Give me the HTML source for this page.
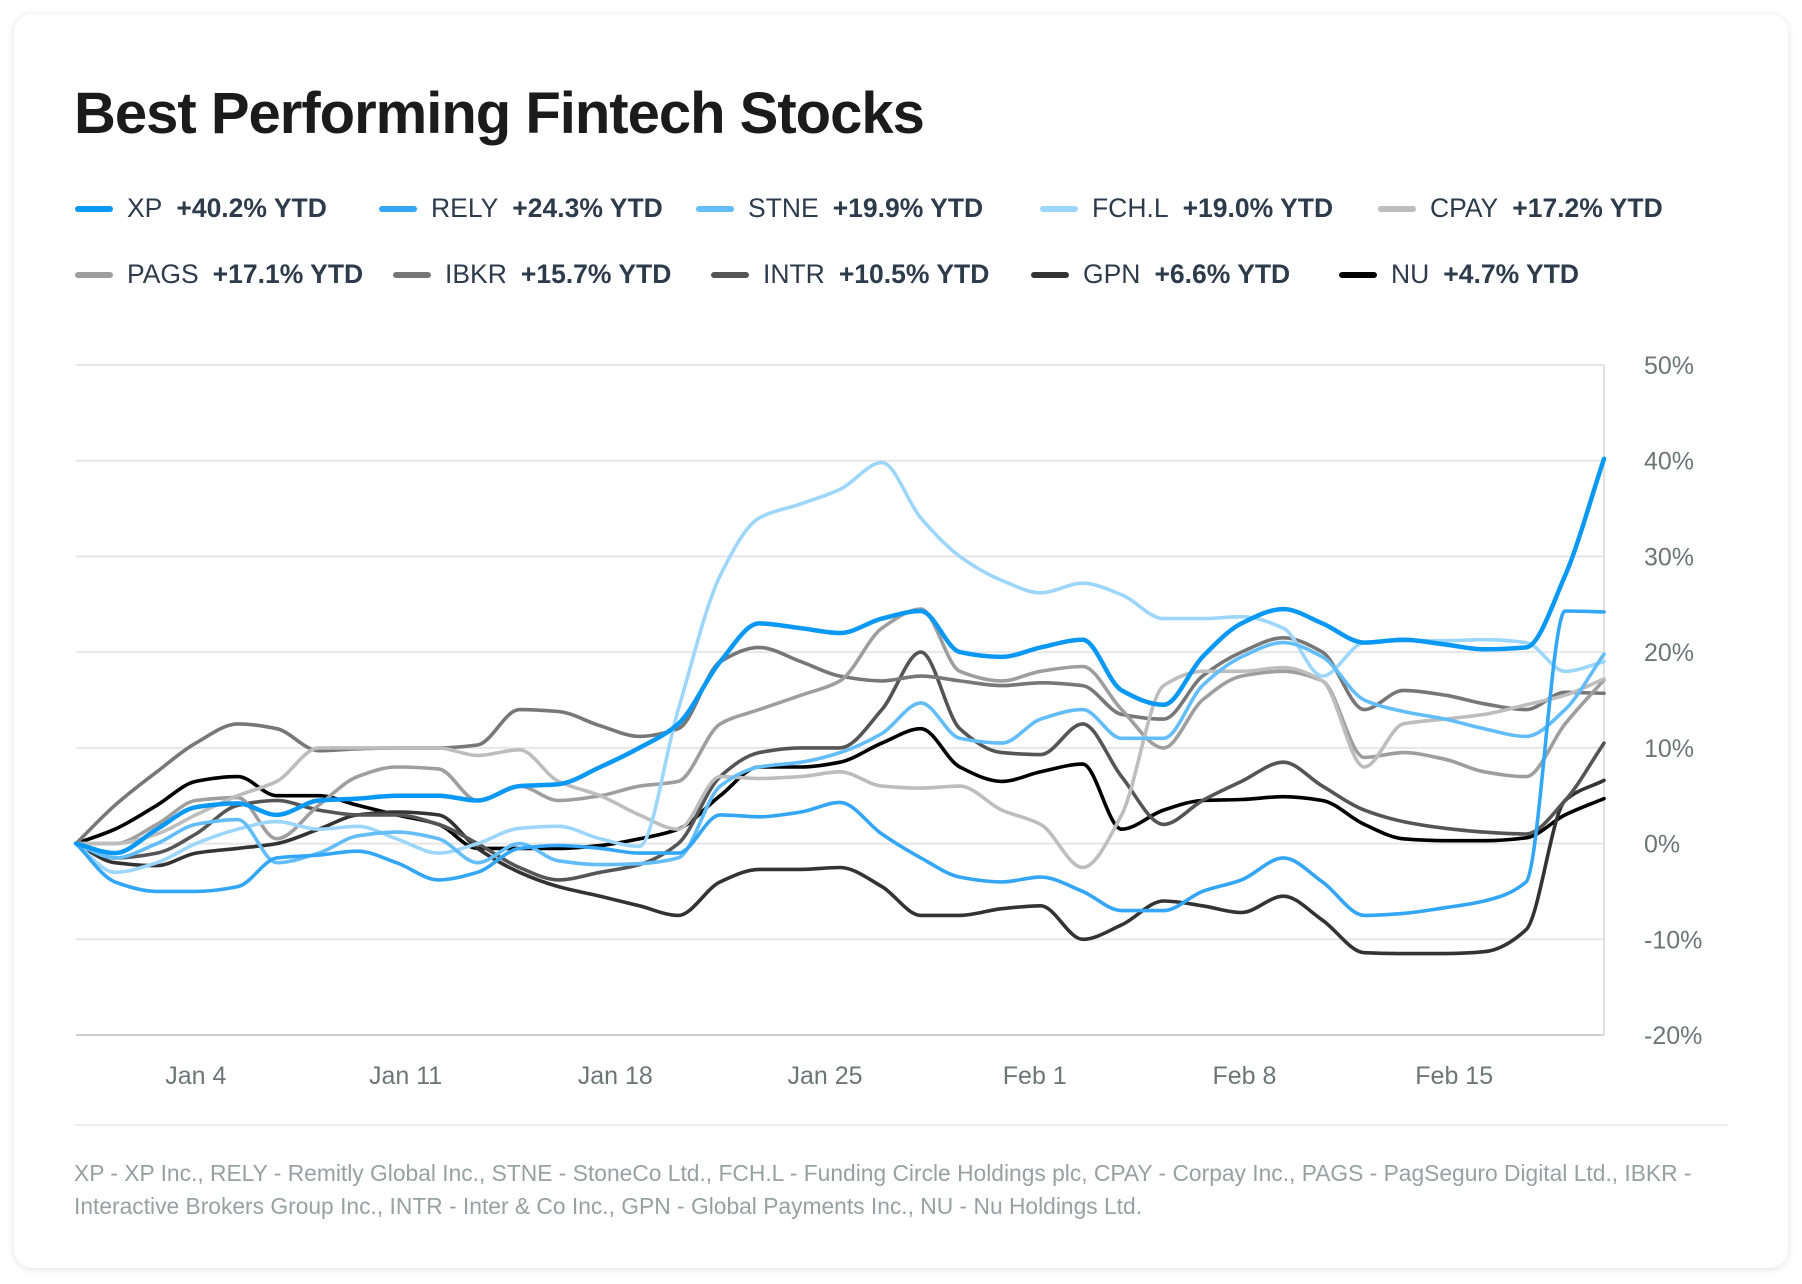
<!DOCTYPE html>
<html><head><meta charset="utf-8">
<style>
body{margin:0;width:1802px;height:1284px;background:#fff;font-family:"Liberation Sans",sans-serif;overflow:hidden;position:relative}
.card{position:absolute;left:14px;top:14px;width:1774px;height:1254px;border-radius:18px;box-shadow:0 1px 8px rgba(0,0,0,0.12);background:#fff}
h1{position:absolute;left:74px;top:80px;margin:0;font-size:58px;font-weight:bold;color:#1b1b1b;letter-spacing:-1px}
.leg{position:absolute;font-size:26.5px;color:#2d3b4b;white-space:nowrap;display:flex;align-items:center}
.leg i{display:inline-block;width:38px;height:6px;border-radius:3px;margin-right:14px}
.leg b{margin-left:14px}
.foot{position:absolute;left:74px;top:1157px;width:1660px;font-size:22.8px;line-height:33px;color:#97a1a1}
</style></head><body>
<div class="card"></div>
<h1>Best Performing Fintech Stocks</h1>
<div id="legend"></div>
<svg id="chart" width="1802" height="1284" style="position:absolute;left:0;top:0"></svg>
<div style="position:absolute;left:74px;top:1124px;width:1654px;height:2px;background:#eee"></div>
<div class="foot">XP - XP Inc., RELY - Remitly Global Inc., STNE - StoneCo Ltd., FCH.L - Funding Circle Holdings plc, CPAY - Corpay Inc., PAGS - PagSeguro Digital Ltd., IBKR - Interactive Brokers Group Inc., INTR - Inter &amp; Co Inc., GPN - Global Payments Inc., NU - Nu Holdings Ltd.</div>
<script>
const days=[0,1.3,2.7,4.0,5.4,6.7,8.1,9.4,10.7,12.1,13.4,14.8,16.1,17.5,18.8,20.1,21.5,22.8,24.2,25.5,26.9,28.2,29.5,30.9,32.2,33.6,34.9,36.3,37.6,38.9,40.3,41.6,43.0,44.3,45.7,47.0,48.4,49.7,51.0];
const tickDays=[4,11,18,25,32,39,46];
const tickLabels=["Jan 4","Jan 11","Jan 18","Jan 25","Feb 1","Feb 8","Feb 15"];
const yTicks=[50,40,30,20,10,0,-10,-20];
const names=["XP","RELY","STNE","FCH.L","CPAY","PAGS","IBKR","INTR","GPN","NU"];
const ytd=["+40.2%","+24.3%","+19.9%","+19.0%","+17.2%","+17.1%","+15.7%","+10.5%","+6.6%","+4.7%"];
const colors=["#0a98f5","#33a6f6","#62bdf8","#9dd6fb","#bdbdbd","#9e9e9e","#777777","#555555","#333333","#000000"];
const XP=[0,-1,1.5,3.8,4.2,3,4.5,4.7,5,5,4.5,6,6.2,8,10,12.5,19,23,22.5,22,23.5,24.3,20,19.5,20.5,21.3,16,14.5,19.5,23,24.5,23,21,21.3,20.8,20.3,20.5,28,40.2];
const RELY=[0,-4,-5,-5,-4.5,-1.5,-1.2,-0.8,-2,-3.8,-3,-0.5,-0.2,-0.5,-1,-1,3,2.8,3.3,4.3,1,-1.5,-3.5,-4,-3.5,-5,-7,-7,-5,-3.8,-1.5,-4,-7.5,-7.3,-6.7,-6,-4,24.3,24.2];
const STNE=[0,-1.5,0,2,2.5,-2,-1,0.8,1.2,0.5,-2,0,-1.8,-2.2,-2.1,-1.5,6,8,8.5,9.5,11.5,14.7,11,10.5,13,14,11,11,16.5,19.5,21,19.5,15,13.8,13,12,11.2,14,19.8];
const FCHL=[0,-3,-2,0,1.5,2.3,1.5,1.8,0.5,-1,0,1.6,1.8,0.5,-0.3,14,28,34,35.5,37,39.8,34,30,27.5,26.2,27.2,26,23.5,23.5,23.7,22.5,17.5,21,21.2,21.2,21.3,21,18,19];
const CPAY=[0,0,1,3,5,6.5,10,10,10,10,9.2,9.8,6.5,5,3,1.5,7,6.8,7,7.5,6,5.8,6,3.5,2,-2.5,3,16.5,18,18,18.4,17,8,12.5,13,13.5,14.5,15.5,17.2];
const PAGS=[0,0,2,4.5,4.8,0.5,4,7,8,7.8,4.5,6,4.5,5,6,6.5,12.5,14,15.5,17,22.5,24.5,18,17,18,18.5,14,10,15,17.5,18,17,9,9.5,8.8,7.5,7,12.5,17.1];
const IBKR=[0,4,7.5,10.5,12.5,12,9.7,9.9,10,10,10.3,14,13.8,12.3,11.2,12,19,20.5,19,17.5,17,17.5,17,16.5,16.8,16.5,13.5,13,17.5,20,21.5,20,14,16,15.5,14.6,14,15.8,15.7];
const INTR=[0,-1.5,-1,1,4,4.5,3.5,3,3,2,0,-2.5,-3.8,-3,-2.2,0,7,9.5,10,10,14,20,12,9.5,9.3,12.5,7,2,4.5,6.5,8.5,6,3.5,2.3,1.6,1.2,1,4.5,10.5];
const GPN=[0,-2,-2.3,-1,-0.5,0,1.5,3,3.3,3,-0.5,-3,-4.5,-5.5,-6.5,-7.5,-4,-2.7,-2.7,-2.5,-4.5,-7.5,-7.5,-6.8,-6.5,-10,-8.5,-6,-6.5,-7.2,-5.5,-8,-11.4,-11.5,-11.5,-11.3,-9,4.5,6.6];
const NU=[0,1.5,4,6.5,7,5,5,4,3,2,-0.5,-0.5,-0.5,-0.2,0.5,1.5,5,8,8,8.5,10.5,12,8,6.5,7.5,8.3,1.5,3.5,4.5,4.6,4.9,4.5,2,0.5,0.3,0.3,0.6,3,4.7];
const series=[XP,RELY,STNE,FCHL,CPAY,PAGS,IBKR,INTR,GPN,NU];

const X0=76,X1=1604,Y0=365,Y1=1035,DMAX=51,VMAX=50,VMIN=-20;
function xs(d){return X0+(d/DMAX)*(X1-X0);}
function ys(v){return Y0+(VMAX-v)/(VMAX-VMIN)*(Y1-Y0);}
const NS="http://www.w3.org/2000/svg";
const svg=document.getElementById('chart');
function mk(tag,attrs){const e=document.createElementNS(NS,tag);for(const k in attrs)e.setAttribute(k,attrs[k]);svg.appendChild(e);return e;}

yTicks.forEach(t=>{
  const l=mk('line',{x1:X0,x2:X1,y1:ys(t),y2:ys(t),stroke:t===VMIN?'#cfcfcf':'#e6e6e6','stroke-width':2});
  
  
  const tx=mk('text',{x:1644,y:ys(t)+9,'font-size':25,fill:'#6d7676','font-family':'Liberation Sans, sans-serif'});
  tx.textContent=t+'%';
  
  
});
const ax=mk('line',{x1:X1,x2:X1,y1:Y0,y2:Y1,stroke:'#e0e0e0','stroke-width':2});


tickDays.forEach((d,i)=>{
  const tx=mk('text',{x:xs(d),y:1084,'font-size':25,fill:'#6d7676','text-anchor':'middle','font-family':'Liberation Sans, sans-serif'});
  tx.textContent=tickLabels[i];
  
  
});

function monotone(pts){
  const n=pts.length;const dx=[],dy=[],m=[];
  for(let i=0;i<n-1;i++){dx.push(pts[i+1][0]-pts[i][0]);dy.push(pts[i+1][1]-pts[i][1]);m.push(dy[i]/dx[i]);}
  const t=[m[0]];
  for(let i=1;i<n-1;i++){if(m[i-1]*m[i]<=0)t.push(0);else{const w1=2*dx[i]+dx[i-1],w2=dx[i]+2*dx[i-1];t.push((w1+w2)/(w1/m[i-1]+w2/m[i]));}}
  t.push(m[n-2]);
  let d='M'+pts[0][0].toFixed(1)+','+pts[0][1].toFixed(1);
  for(let i=0;i<n-1;i++){const h=dx[i]/3;
    d+='C'+(pts[i][0]+h).toFixed(1)+','+(pts[i][1]+h*t[i]).toFixed(1)+' '+(pts[i+1][0]-h).toFixed(1)+','+(pts[i+1][1]-h*t[i+1]).toFixed(1)+' '+pts[i+1][0].toFixed(1)+','+pts[i+1][1].toFixed(1);}
  return d;
}
for(let s=series.length-1;s>=0;s--){
  const pts=days.map((d,i)=>[xs(d),ys(series[s][i])]);
  const p=mk('path',{d:monotone(pts),fill:'none',stroke:colors[s],'stroke-width':s===0?4.5:3.6,'stroke-linejoin':'round','stroke-linecap':'round'});
  
  
}

const legPos=[[75,208],[379,208],[696,208],[1040,208],[1378,208],[75,274],[393,274],[711,274],[1031,274],[1339,274]];
const legend=document.getElementById('legend');
names.forEach((n,i)=>{
  const d=document.createElement('div');
  d.className='leg';
  d.style.left=legPos[i][0]+'px';d.style.top=(legPos[i][1]-15)+'px';
  d.innerHTML='<i style="background:'+colors[i]+'"></i><span>'+n+'</span><b>'+ytd[i]+' YTD</b>';
  
  
  legend.appendChild(d);
});
</script>
</body></html>
